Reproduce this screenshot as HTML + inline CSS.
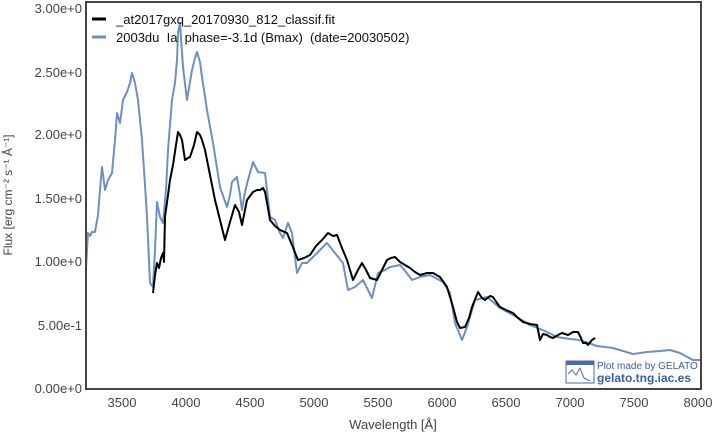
<!DOCTYPE html>
<html><head><meta charset="utf-8"><style>
body{margin:0;background:#fff;}
svg text{font-family:"Liberation Sans",sans-serif;fill:#444;}
</style></head><body>
<svg width="716" height="441" viewBox="0 0 716 441" xmlns="http://www.w3.org/2000/svg">
<rect x="0" y="0" width="716" height="441" fill="#fff"/>
<g font-size="13" text-anchor="end">
<text x="82" y="13">3.00e+0</text>
<text x="82" y="77">2.50e+0</text>
<text x="82" y="139">2.00e+0</text>
<text x="82" y="203">1.50e+0</text>
<text x="82" y="266">1.00e+0</text>
<text x="82" y="330">5.00e-1</text>
<text x="82" y="393">0.00e+0</text>
</g>
<g font-size="13" text-anchor="middle">
<text x="122" y="407">3500</text>
<text x="186" y="407">4000</text>
<text x="250" y="407">4500</text>
<text x="314" y="407">5000</text>
<text x="378" y="407">5500</text>
<text x="442" y="407">6000</text>
<text x="506" y="407">6500</text>
<text x="570" y="407">7000</text>
<text x="634" y="407">7500</text>
<text x="698" y="407">8000</text>
<text x="393" y="429">Wavelength [Å]</text>
</g>
<text font-size="12" text-anchor="middle" transform="translate(12,195) rotate(-90)">Flux [erg cm⁻² s⁻¹ Å⁻¹]</text>
<polyline fill="none" stroke="#6f8fc4" stroke-width="2" stroke-linejoin="round" points="86,267 88,233 90,236 92,232 95,232 98,215 100,190 102,167 105,190 108,180 112,173 115,140 117,113 120,123 123,100 127,92 130,83 132,73 135,83 138,100 142,140 145,185 147,217 150,283 153,287 155,250 157,202 160,217 163,223 166,190 168,150 172,100 175,83 177,60 178,33 180,23 183,67 187,100 190,82 192,70 195,58 197,52 200,62 202,77 207,110 213,143 220,187 227,207 230,195 232,182 237,177 240,195 242,210 245,192 248,180 253,162 258,172 265,173 270,217 275,220 280,233 283,238 288,223 292,233 297,273 302,263 307,263 313,257 320,250 327,243 335,253 343,263 348,290 355,287 363,280 368,290 372,298 378,273 385,270 390,267 400,265 406,272 412,280 420,277 430,275 443,282 450,293 455,323 462,340 467,327 475,300 487,297 500,308 515,316 530,325 545,331 557,337 570,339 580,340 597,346 613,348 633,354 647,352 660,351 670,350 680,353 693,360 700,360"/>
<polyline fill="none" stroke="#000" stroke-width="2" stroke-linejoin="round" points="153,293 155,275 157,263 159,268 161,258 163,253 164,262 165,217 168,195 170,180 173,165 176,145 178,132 180,135 182,140 185,160 188,158 190,157 194,145 197,132 200,135 202,140 205,150 207,160 211,180 215,200 220,220 225,240 230,222 235,205 239,212 242,225 245,210 247,200 250,196 253,192 257,190 260,190 263,188 265,192 268,208 270,220 275,226 280,230 287,233 292,245 298,260 304,258 310,255 316,246 322,240 328,233 333,236 337,235 342,248 347,260 353,280 358,270 362,263 366,270 370,278 377,280 382,270 387,260 391,258 395,257 400,262 405,265 410,268 415,272 420,275 427,273 433,273 440,277 447,287 453,307 457,322 460,328 465,327 469,318 472,307 478,292 482,298 485,300 490,296 493,297 497,303 500,307 506,310 513,313 518,318 523,322 530,324 537,325 540,340 543,334 547,335 550,337 553,338 558,335 562,333 568,335 573,332 578,332 581,338 583,343 586,343 588,345 592,340 595,338"/>
<rect x="86" y="2" width="615" height="387" fill="none" stroke="#444" stroke-width="2"/>
<line x1="92" y1="19" x2="106" y2="19" stroke="#000" stroke-width="3"/>
<line x1="92" y1="37" x2="106" y2="37" stroke="#6f8fc4" stroke-width="3"/>
<g font-size="13" style="white-space:pre">
<text x="116" y="24" style="fill:#111">_at2017gxq_20170930_812_classif.fit</text>
<text x="116" y="42" style="fill:#111" xml:space="preserve">2003du  Ia  phase=-3.1d (Bmax)  (date=20030502)</text>
</g>
<rect x="566" y="361" width="28" height="22" fill="#fff" stroke="#4a6bb0" stroke-width="1"/>
<rect x="566" y="361" width="28" height="4" fill="#4a6bb0"/>
<polyline points="568,374 572,370 576,375 580,368 584,378 590,381" fill="none" stroke="#4a6bb0" stroke-width="1"/>
<text x="597" y="369" font-size="10" style="fill:#3a5fa6">Plot made by GELATO</text>
<text x="597" y="382" font-size="12" font-weight="bold" style="fill:#3a5fa6">gelato.tng.iac.es</text>
</svg>
</body></html>
